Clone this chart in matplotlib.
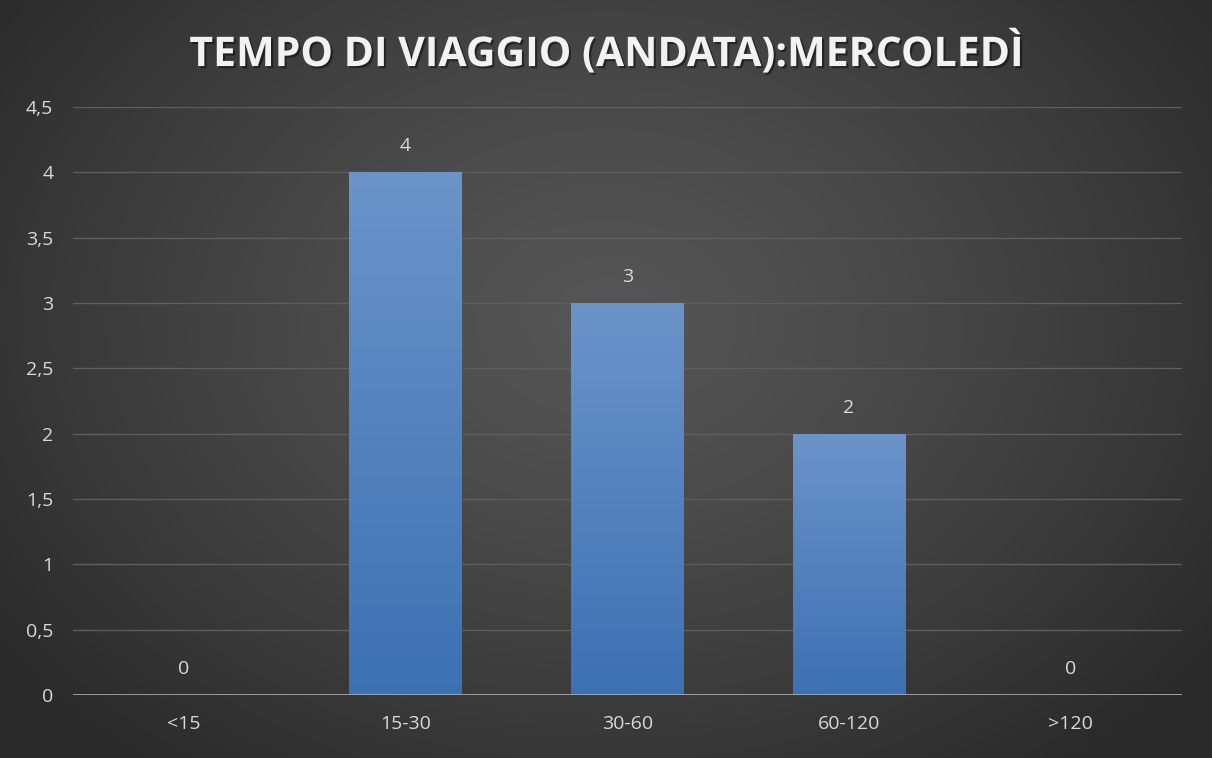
import numpy as np
import matplotlib
matplotlib.use("Agg")
import matplotlib.pyplot as plt
import matplotlib.patheffects as pe

# dati
categorie = ["<15", "15-30", "30-60", "60-120", ">120"]
valori = [0, 4, 3, 2, 0]
y_ticks = [0, 0.5, 1, 1.5, 2, 2.5, 3, 3.5, 4, 4.5]
y_labels = ["0", "0,5", "1", "1,5", "2", "2,5", "3", "3,5", "4", "4,5"]
titolo = "TEMPO DI VIAGGIO (ANDATA):MERCOLEDÌ"

W, H = 1212, 758
fig = plt.figure(figsize=(W / 100, H / 100), dpi=100)

# sfondo con gradiente radiale
bg = fig.add_axes([0, 0, 1, 1])
bg.set_axis_off()
yy, xx = np.mgrid[0:H, 0:W]
r = np.sqrt(((xx - W * 0.5) / (W * 0.62)) ** 2 + ((yy - H * 0.42) / (H * 0.75)) ** 2)
r = np.clip(r, 0, 1)
lum = 0.335 - 0.17 * r ** 1.3
img = np.dstack([lum, lum, lum])
bg.imshow(img, extent=[0, 1, 0, 1], aspect="auto", zorder=0)
bg.set_xlim(0, 1)
bg.set_ylim(0, 1)

ax = fig.add_axes([0.060, 0.083, 0.915, 0.776])
ax.patch.set_alpha(0)
x = np.arange(len(categorie))
ax.set_xlim(-0.5, len(categorie) - 0.5)
ax.set_ylim(0, 4.5)

# griglia
for t in y_ticks[1:]:
    ax.axhline(t, color="#5e5e5e", lw=1.0, zorder=1)
ax.axhline(0, color="#a6a6a6", lw=2.0, zorder=4)

# barre con gradiente verticale
grad = np.linspace(0, 1, 256).reshape(-1, 1)
top = np.array([0.42, 0.58, 0.79])
bot = np.array([0.24, 0.44, 0.70])
gimg = top[None, None, :] * (1 - grad[:, :, None]) + bot[None, None, :] * grad[:, :, None]
larg = 0.505
bars = ax.bar(x, valori, width=larg, color="none", zorder=2)
for b, v in zip(bars, valori):
    if v <= 0:
        continue
    x0 = b.get_x()
    im = ax.imshow(gimg, extent=[x0, x0 + larg, 0, v], aspect="auto", zorder=2)
    im.set_clip_path(b)

for xi, v in zip(x, valori):
    ax.text(xi, v + 0.13, str(v), ha="center", va="bottom", color="#d9d9d9",
            fontsize=14, family="Open Sans", zorder=5)

ax.set_xticks(x)
ax.set_xticklabels(categorie, color="#d9d9d9", fontsize=14, family="Open Sans")
ax.set_yticks(y_ticks)
ax.set_yticklabels(y_labels, color="#d9d9d9", fontsize=14, family="Open Sans")
ax.tick_params(length=0, pad=14)
ax.tick_params(axis="x", pad=14)
for s in ax.spines.values():
    s.set_visible(False)

fig.text(0.5, 0.929, titolo, ha="center", va="center", color="#f2f2f2",
         fontsize=29.5, fontweight="bold", family="Open Sans",
         path_effects=[pe.withSimplePatchShadow(offset=(1.5, -1.5), alpha=0.45,
                                                shadow_rgbFace="black")])

fig.savefig("out.png", dpi=100)
